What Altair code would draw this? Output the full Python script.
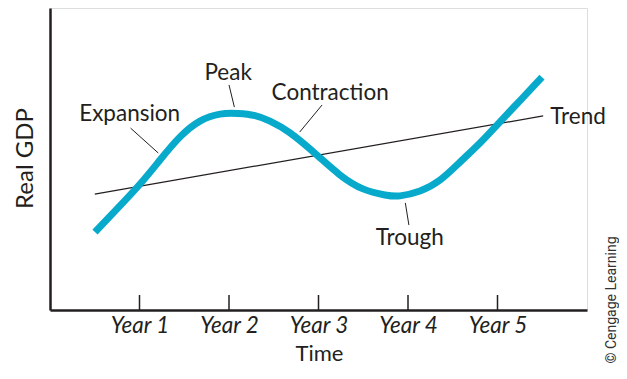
import altair as alt
import pandas as pd

# Business cycle curve (x in years, y in GDP index units)
curve_x = [0.503, 0.749, 1.006, 1.229, 1.453, 1.676, 1.899, 2.101, 2.291, 2.458, 2.682, 2.983,
           3.240, 3.497, 3.743, 3.911, 4.134, 4.358, 4.581, 4.804, 4.994, 5.173, 5.330, 5.497]
curve_y = [26.3, 33.9, 42.1, 50.0, 57.6, 62.8, 65.1, 65.3, 64.6, 62.8, 58.9, 51.6,
           45.1, 40.5, 38.5, 38.2, 39.8, 43.4, 49.3, 55.6, 61.5, 67.1, 72.0, 77.3]

trend_x = [0.50, 5.51]
trend_y = [38.8, 64.5]

year_ticks = [1, 2, 3, 4, 5]

label_text = ["Expansion", "Peak", "Contraction", "Trough"]
label_x = [0.89, 1.99, 3.13, 4.02]
label_y = [62.9, 76.3, 69.7, 22.0]

trend_label = ["Trend"]
trend_label_x = [5.59]
trend_label_y = [61.8]

leader_x = [0.90, 2.00, 3.04, 3.97]
leader_y = [60.5, 74.7, 68.1, 35.9]
leader_x2 = [1.21, 2.06, 2.79, 4.01]
leader_y2 = [52.3, 67.4, 59.2, 28.6]

FONT = "Lato"
INK = "#231f20"
TEAL = "#08aacb"

curve_df = pd.DataFrame({"t": curve_x, "gdp": curve_y})
trend_df = pd.DataFrame({"t": trend_x, "gdp": trend_y})
ticks_df = pd.DataFrame({"t": year_ticks})
labels_df = pd.DataFrame({"t": label_x, "gdp": label_y, "text": label_text})
trend_lab_df = pd.DataFrame({"t": trend_label_x, "gdp": trend_label_y, "text": trend_label})
leader_df = pd.DataFrame({"t": leader_x, "gdp": leader_y, "t2": leader_x2, "gdp2": leader_y2})

xscale = alt.Scale(domain=[0, 6], nice=False, zero=False)
yscale = alt.Scale(domain=[0.66, 100], nice=False, zero=False)

x_enc = alt.X("t:Q", scale=xscale, axis=alt.Axis(
    values=year_ticks, labelExpr="'Year ' + datum.value", ticks=False, grid=False,
    labelFont=FONT, labelFontStyle="italic", labelFontSize=22.5, labelColor=INK,
    labelBaseline="alphabetic", labelPadding=22, labelFlush=False,
    domainColor=INK, domainWidth=2.5,
    title="Time", titleFont=FONT, titleFontSize=22, titleFontWeight="normal",
    titleColor=INK, titleX=269, titleY=50, titleBaseline="alphabetic", titleAlign="center"))
y_enc = alt.Y("gdp:Q", scale=yscale, axis=alt.Axis(
    labels=False, ticks=False, grid=False, domainColor=INK, domainWidth=2.5,
    title="Real GDP", titleFont=FONT, titleFontSize=24, titleFontWeight="normal",
    titleColor=INK, titleX=-25, titleY=150, titleAngle=270,
    titleAlign="center", titleBaseline="middle"))

trend = alt.Chart(trend_df).mark_line(color=INK, strokeWidth=1.2).encode(x=x_enc, y=y_enc)
curve = alt.Chart(curve_df).mark_line(color=TEAL, strokeWidth=7, interpolate="natural",
                                      strokeCap="butt").encode(x="t:Q", y="gdp:Q")
ticks = alt.Chart(ticks_df).mark_rule(color=INK, strokeWidth=1.5).encode(
    x="t:Q", y=alt.value(302), y2=alt.value(287))
leaders = alt.Chart(leader_df).mark_rule(color=INK, strokeWidth=1).encode(
    x="t:Q", y="gdp:Q", x2="t2:Q", y2="gdp2:Q")
labels = alt.Chart(labels_df).mark_text(font=FONT, fontSize=22.5, color=INK,
                                        align="center", baseline="alphabetic").encode(
    x="t:Q", y="gdp:Q", text="text:N")
trend_lab = alt.Chart(trend_lab_df).mark_text(font=FONT, fontSize=22.5, color=INK,
                                              align="left", baseline="alphabetic").encode(
    x="t:Q", y="gdp:Q", text="text:N")
credit = alt.Chart(pd.DataFrame({"text": ["© Cengage Learning"]})).mark_text(
    font="Roboto", fontSize=14, color="#333333", angle=270,
    align="center", baseline="middle").encode(
    x=alt.value(562), y=alt.value(292), text="text:N")

chart = alt.layer(trend, curve, ticks, leaders, labels, trend_lab, credit).properties(
    width=537, height=302,
    autosize=alt.AutoSizeParams(type="none"),
    padding={"left": 42, "top": 0, "right": 32, "bottom": 55},
).configure_view(stroke=None).configure(background="white")

chart.save("out.html", embed_options={"renderer": "svg", "actions": False})
